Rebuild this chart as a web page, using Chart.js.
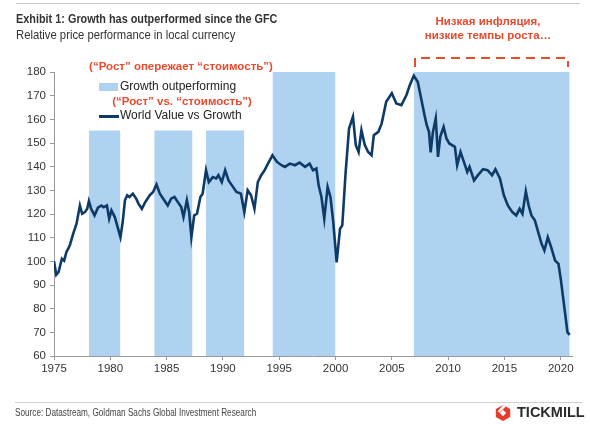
<!DOCTYPE html>
<html>
<head>
<meta charset="utf-8">
<script src="https://cdn.jsdelivr.net/npm/chart.js@4.4.1/dist/chart.umd.min.js"></script>
<style>
  html, body { margin: 0; padding: 0; background: #fff; }
  #wrap { position: relative; width: 590px; height: 424px; overflow: hidden; font-family: "Liberation Sans", Arial, sans-serif; }
  #c { position: absolute; left: 0; top: 0; }
  .abs { position: absolute; white-space: nowrap; }
  .narrow { font-family: "Liberation Sans", Arial, sans-serif; transform-origin: 0 50%; }
  .red { color: #ea4a2e; font-weight: bold; font-size: 11.5px; }
</style>
</head>
<body>
<div id="wrap">
  <canvas id="c" width="590" height="424"></canvas>
  <div class="abs" style="left:16px; top:3px; width:564px; height:1px; background:#c8c8c8;"></div>
  <div class="abs narrow" style="left:16px; top:11px; font-size:13.5px; font-weight:bold; color:#333; transform:scaleX(0.805);">Exhibit 1: Growth has outperformed since the GFC</div>
  <div class="abs narrow" style="left:16px; top:27px; font-size:13.5px; color:#333; transform:scaleX(0.835);">Relative price performance in local currency</div>

  <div class="abs red" style="left:488px; top:15px; transform:translateX(-50%);">Низкая инфляция,</div>
  <div class="abs red" style="left:488px; top:29px; transform:translateX(-50%);">низкие темпы роста…</div>
  <svg class="abs" style="left:0; top:0;" width="590" height="80">
    <path d="M415 67 L415 58 L568 58 L568 67" fill="none" stroke="#ea4a2e" stroke-width="2" stroke-dasharray="9,6"/>
  </svg>

  <div class="abs red" style="left:181px; top:60px; transform:translateX(-50%);">(“Рост” опережает “стоимость”)</div>
  <div class="abs" style="left:99px; top:83px; width:19px; height:8px; background:#aed2ef;"></div>
  <div class="abs" style="left:120px; top:79px; font-size:12px; color:#222;">Growth outperforming</div>
  <div class="abs red" style="left:182px; top:95px; transform:translateX(-50%);">(“Рост” vs. “стоимость”)</div>
  <div class="abs" style="left:99px; top:115px; width:20px; height:2.5px; background:#0d3a66;"></div>
  <div class="abs" style="left:120px; top:108px; font-size:12px; color:#222;">World Value vs Growth</div>

  <div class="abs" style="left:15px; top:402px; width:567px; height:1px; background:#cfcfcf;"></div>
  <div class="abs narrow" style="left:15px; top:406px; font-size:10.5px; color:#444; transform:scaleX(0.78);">Source: Datastream, Goldman Sachs Global Investment Research</div>
  <svg class="abs" style="left:494px; top:404px;" width="18" height="18" viewBox="0 0 20 20">
    <polygon points="10,1 18,5.5 18,14.5 10,19 2,14.5 2,5.5" fill="#e63c2b"/>
    <polygon points="6.5,10 10,6.5 13.5,10 10,13.5" fill="#fff"/>
    <polygon points="10,1 13,2.7 6,9.7 4.3,8" fill="#fff"/>
  </svg>
  <div class="abs" style="left:517px; top:404px; font-size:14.5px; font-weight:bold; color:#2b2b2b;">TICKMILL</div>
</div>
<script>
const years = [1975.0,1975.2,1975.4,1975.7,1975.9,1976.1,1976.4,1976.7,1977.0,1977.3,1977.5,1977.75,1977.95,1978.1,1978.3,1978.6,1978.9,1979.2,1979.4,1979.7,1979.9,1980.1,1980.4,1980.9,1981.1,1981.3,1981.5,1981.7,1982.0,1982.3,1982.5,1982.8,1983.1,1983.5,1983.8,1984.1,1984.4,1984.85,1985.1,1985.4,1985.7,1986.0,1986.3,1986.5,1986.8,1987.0,1987.2,1987.45,1987.7,1988.0,1988.2,1988.5,1988.75,1989.1,1989.4,1989.6,1989.9,1990.2,1990.5,1990.8,1991.2,1991.6,1991.9,1992.2,1992.5,1992.8,1993.1,1993.4,1993.7,1994.0,1994.4,1994.8,1995.2,1995.5,1995.95,1996.4,1996.8,1997.3,1997.7,1998.0,1998.3,1998.5,1998.75,1999.0,1999.3,1999.55,1999.8,2000.1,2000.4,2000.6,2000.9,2001.2,2001.55,2001.8,2002.05,2002.3,2002.6,2002.9,2003.2,2003.4,2003.8,2004.1,2004.5,2005.0,2005.4,2005.85,2006.3,2006.6,2006.95,2007.3,2007.6,2007.9,2008.1,2008.3,2008.45,2008.65,2008.9,2009.1,2009.3,2009.6,2009.85,2010.1,2010.6,2010.8,2011.1,2011.4,2011.7,2011.9,2012.3,2012.65,2013.1,2013.5,2013.9,2014.2,2014.6,2014.95,2015.3,2015.7,2016.05,2016.35,2016.6,2016.9,2017.15,2017.4,2017.7,2018.0,2018.3,2018.55,2018.85,2019.15,2019.5,2019.8,2020.0,2020.3,2020.6,2020.8];
const valueVsGrowth = [100.0,94.3,95.4,101.1,100.3,103.9,106.7,111.6,115.9,123.6,120.1,120.8,122.2,125.5,122.2,119.4,122.7,123.6,122.9,123.6,118.0,121.5,118.7,110.2,116.6,125.8,127.9,127.2,128.6,126.5,124.4,122.2,125.0,127.9,129.3,132.5,128.6,125.4,123.6,126.5,127.2,125.0,122.9,118.7,125.8,120.8,110.2,119.4,120.1,127.2,128.6,138.5,133.5,135.6,135.0,136.4,133.5,138.5,134.2,132.1,129.3,128.6,120.8,130.0,127.9,122.2,133.5,136.4,138.5,141.3,144.8,142.0,140.6,139.9,141.3,140.6,141.7,139.9,141.3,138.5,139.2,132.1,127.2,118.0,131.4,127.2,116.6,99.6,113.8,115.2,137.8,156.1,161.1,149.1,146.2,155.4,149.1,146.2,144.8,153.3,154.7,158.3,167.4,171.0,166.7,166.0,170.3,174.5,178.4,175.9,168.9,161.8,157.5,154.7,146.0,154.7,160.4,144.1,152.6,156.8,151.9,149.8,148.4,140.6,146.2,142.0,137.8,139.9,134.2,136.4,138.9,138.5,136.4,138.9,135.0,127.9,123.6,120.8,119.4,122.2,120.1,129.6,123.6,119.4,117.3,112.3,107.4,104.6,110.2,106.0,100.3,98.9,92.6,81.3,70.0,68.9];

const periodStart = [1978.1, 1983.9, 1988.5, 1994.4, 2006.95];
const periodEnd   = [1980.9, 1987.3, 1991.9, 2000.0, 2020.8];
const periodTop   = [155.3, 155.3, 155.3, 180, 180];

const xTickYears = [1975, 1980, 1985, 1990, 1995, 2000, 2005, 2010, 2015, 2020];
const yTicks = [60, 70, 80, 90, 100, 110, 120, 130, 140, 150, 160, 170, 180];

const lineData = years.map((y, i) => ({ x: y, y: valueVsGrowth[i] }));

const periodSets = periodStart.map((s, i) => ({
  label: i === 0 ? 'Growth outperforming' : '',
  data: [{ x: s, y: periodTop[i] }, { x: periodEnd[i], y: periodTop[i] }],
  backgroundColor: '#aed2ef',
  borderWidth: 0,
  borderColor: 'rgba(0,0,0,0)',
  pointRadius: 0,
  fill: 'start',
  order: 2
}));

const axisColor = '#9a9a9a';
const tickFont = { family: '"Liberation Sans", Arial, sans-serif', size: 11.5 };

new Chart(document.getElementById('c'), {
  type: 'line',
  data: {
    datasets: [
      ...periodSets,
      {
        label: 'World Value vs Growth',
        data: lineData,
        borderColor: '#0d3a66',
        borderWidth: 2.6,
        pointRadius: 0,
        tension: 0,
        fill: false,
        order: 1
      }
    ]
  },
  options: {
    responsive: false,
    animation: false,
    layout: { padding: { left: 0, top: 72, right: 18, bottom: 0 } },
    plugins: { legend: { display: false }, tooltip: { enabled: false } },
    scales: {
      x: {
        type: 'linear',
        min: 1975,
        max: 2021,
        afterFit: s => { s.height = 68; },
        afterBuildTicks: s => { s.ticks = xTickYears.map(v => ({ value: v })); },
        ticks: { font: tickFont, color: '#333', padding: 2, maxRotation: 0, autoSkip: false, callback: v => String(v) },
        grid: { display: true, drawOnChartArea: false, drawTicks: true, tickLength: 4, color: axisColor },
        border: { display: true, color: axisColor }
      },
      y: {
        min: 60,
        max: 180,
        afterFit: s => { s.width = 54; },
        afterBuildTicks: s => { s.ticks = yTicks.map(v => ({ value: v })); },
        ticks: { font: tickFont, color: '#333', padding: 4, callback: v => String(v) },
        grid: { display: true, drawOnChartArea: false, drawTicks: true, tickLength: 4, color: axisColor },
        border: { display: true, color: axisColor }
      }
    }
  }
});
</script>
</body>
</html>
